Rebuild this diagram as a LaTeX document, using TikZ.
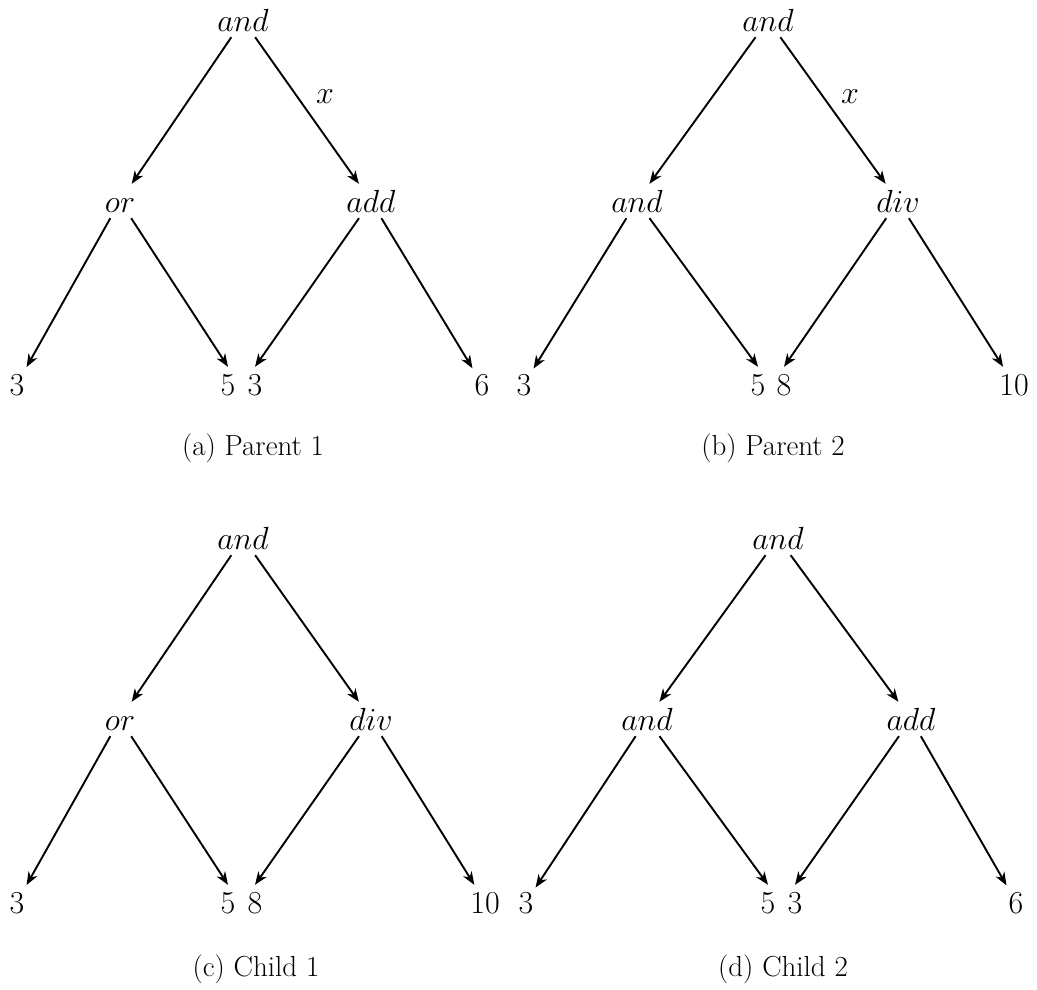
\RequirePackage{fix-cm}
\documentclass[tikz,border=0pt]{standalone}
\usetikzlibrary{arrows.meta}

\tikzset{
  tnode/.style={anchor=base, font=\fontsize{32}{38}\selectfont,
    text height=22pt, text depth=0pt, inner xsep=2pt, inner ysep=6pt},
  arr/.style={line width=1.9pt, -{Stealth[length=13pt,width=10pt,inset=4pt]}},
  lbl/.style={font=\fontsize{32}{38}\selectfont, inner sep=0pt},
  captext/.style={anchor=base, font=\fontsize{29}{34}\selectfont, inner sep=0pt}
}

\begin{document}
\begin{tikzpicture}[x=1pt,y=-1pt]
\useasboundingbox (0,0) rectangle (1037,989);

% (a) Parent 1
\node[tnode] (a0) at (243,31) {$and$};
\node[tnode] (a1) at (120,212) {$or$};
\node[tnode] (a2) at (371,212) {$add$};
\node[tnode] (a3) at (17,395) {3};
\node[tnode] (a4) at (228,395) {5};
\node[tnode] (a5) at (255,395) {3};
\node[tnode] (a6) at (482,395) {6};
\draw[arr] (a0) -- (a1);
\draw[arr] (a0) -- (a2);
\draw[arr] (a1) -- (a3);
\draw[arr] (a1) -- (a4.north);
\draw[arr] (a2) -- (a5.north);
\draw[arr] (a2) -- (a6);
\node[lbl] (ax) at (325,97) {$x$};
\node[captext] (ac) at (253,455) {(a) Parent 1};

% (b) Parent 2
\node[tnode] (b0) at (768,31) {$and$};
\node[tnode] (b1) at (637,212) {$and$};
\node[tnode] (b2) at (898,212) {$div$};
\node[tnode] (b3) at (524,395) {3};
\node[tnode] (b4) at (758,395) {5};
\node[tnode] (b5) at (784,395) {8};
\node[tnode] (b6) at (1014,395) {10};
\draw[arr] (b0) -- (b1);
\draw[arr] (b0) -- (b2);
\draw[arr] (b1) -- (b3);
\draw[arr] (b1) -- (b4.north);
\draw[arr] (b2) -- (b5.north);
\draw[arr] (b2) -- (b6);
\node[lbl] (bx) at (850,97) {$x$};
\node[captext] (bc) at (773,455) {(b) Parent 2};

% (c) Child 1
\node[tnode] (c0) at (243,549) {$and$};
\node[tnode] (c1) at (120,730) {$or$};
\node[tnode] (c2) at (371,730) {$div$};
\node[tnode] (c3) at (17,913) {3};
\node[tnode] (c4) at (228,913) {5};
\node[tnode] (c5) at (255,913) {8};
\node[tnode] (c6) at (485,913) {10};
\draw[arr] (c0) -- (c1);
\draw[arr] (c0) -- (c2);
\draw[arr] (c1) -- (c3);
\draw[arr] (c1) -- (c4.north);
\draw[arr] (c2) -- (c5.north);
\draw[arr] (c2) -- (c6);
\node[captext] (cc) at (256,976) {(c) Child 1};

% (d) Child 2
\node[tnode] (d0) at (778,549) {$and$};
\node[tnode] (d1) at (647,730) {$and$};
\node[tnode] (d2) at (911,730) {$add$};
\node[tnode] (d3) at (526,913) {3};
\node[tnode] (d4) at (768,913) {5};
\node[tnode] (d5) at (795,913) {3};
\node[tnode] (d6) at (1016,913) {6};
\draw[arr] (d0) -- (d1);
\draw[arr] (d0) -- (d2);
\draw[arr] (d1) -- (d3);
\draw[arr] (d1) -- (d4.north);
\draw[arr] (d2) -- (d5.north);
\draw[arr] (d2) -- (d6);
\node[captext] (dc) at (783,976) {(d) Child 2};
\end{tikzpicture}
\end{document}
